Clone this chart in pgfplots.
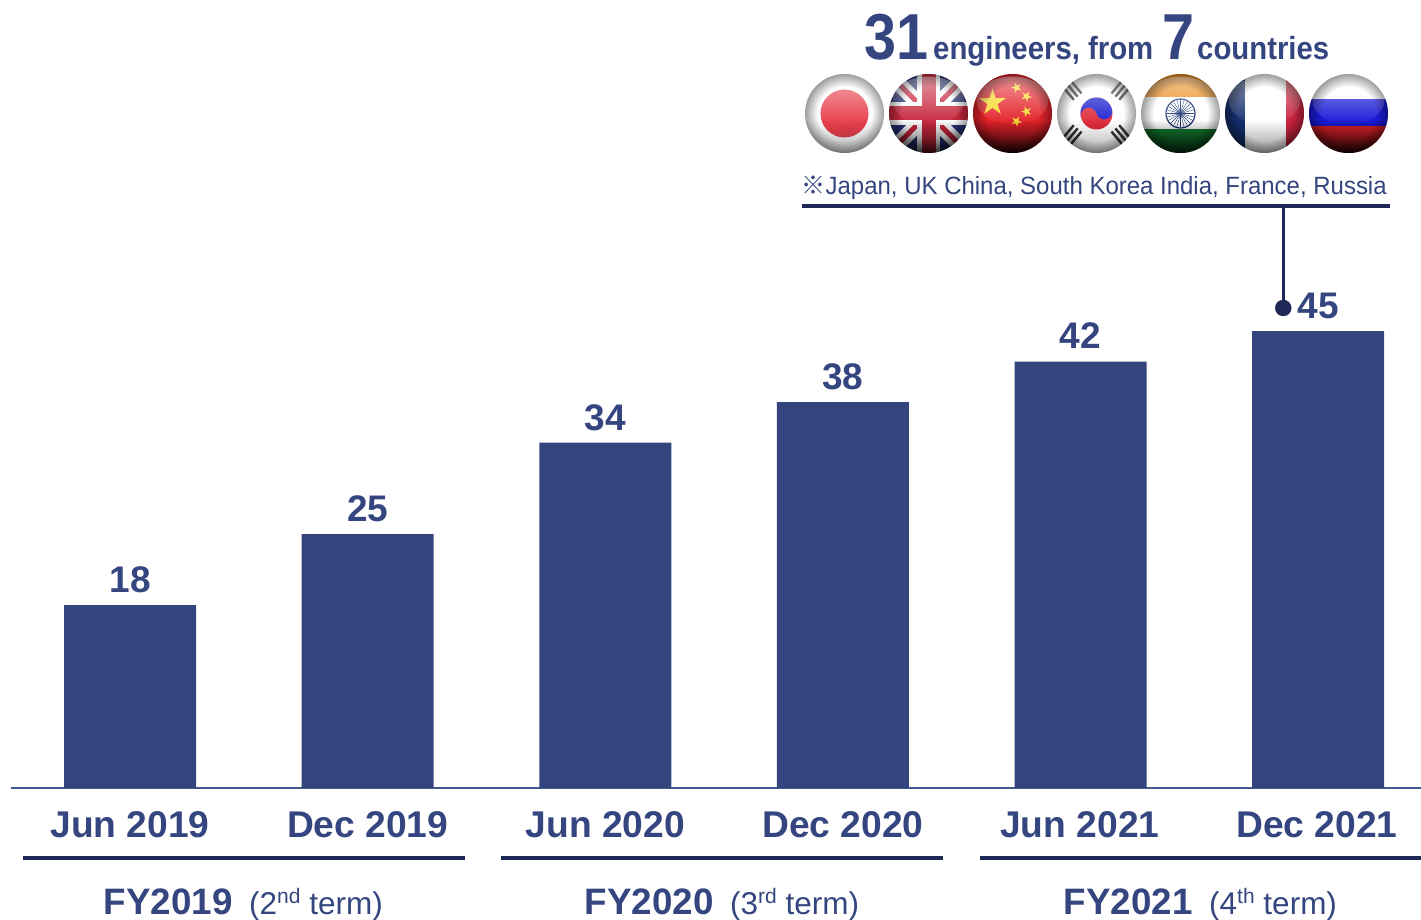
\documentclass[border=0pt]{standalone}
\usepackage{fontspec}
\setmainfont{Liberation Sans}
\newfontfamily\cjkfont{Noto Sans CJK JP}
\usepackage{pgfplots}
\pgfplotsset{compat=1.18}
\usetikzlibrary{fadings,shapes.geometric}

\definecolor{barblue}{HTML}{34457E}
\definecolor{inkblue}{HTML}{34457F}
\definecolor{ruleblue}{HTML}{1D2856}
\definecolor{baseblue}{HTML}{42598F}
\definecolor{jpred}{HTML}{E8404C}
\definecolor{flagred}{HTML}{E4222A}
\definecolor{ukblue}{HTML}{26357C}
\definecolor{ukred}{HTML}{C8283E}
\definecolor{starcol}{HTML}{F6DC2C}
\definecolor{inorange}{HTML}{EC8A16}
\definecolor{ingreen}{HTML}{137A2E}
\definecolor{frblue}{HTML}{15306F}
\definecolor{frred}{HTML}{CC2440}
\definecolor{rublue}{HTML}{1A1AD8}
\definecolor{krred}{HTML}{E02A3A}
\definecolor{krblue}{HTML}{1C22D0}

\newcommand{\fs}[1]{\fontsize{#1}{#1}\selectfont}
\newcommand{\ordsup}[1]{\raisebox{.34em}{\fontsize{21}{21}\selectfont #1}}

% fadings for the glass look of the round flags
\tikzfading[name=glossfade, top color=transparent!48, bottom color=transparent!100]
\tikzfading[name=darkfade, top color=transparent!100, bottom color=transparent!0]
\pgfdeclareradialshading{rimshade}{\pgfpointorigin}{%
  color(0bp)=(pgftransparent!100); color(17bp)=(pgftransparent!100);
  color(25bp)=(pgftransparent!62); color(50bp)=(pgftransparent!62)}
\pgfdeclarefading{rimfade}{\pgfuseshading{rimshade}}

% one round flag: #1 centre x, #2 strength of the lower shadow, #3 artwork
\newcommand{\globe}[3]{%
  \begin{scope}[shift={(#1,113.5)}]
    \begin{scope}
      \clip (0,0) circle (39.5);
      #3
      \fill[white, path fading=glossfade] (0,-13) ellipse[x radius=36, y radius=24];
      \fill[black, path fading=darkfade, fill opacity=#2] (-39.5,6) rectangle (39.5,39.5);
    \end{scope}
    \fill[black, path fading=rimfade] (0,0) circle (39.5);
  \end{scope}}

\begin{document}
\begin{tikzpicture}
\path[use as bounding box] (0,0) rectangle (1421pt,919pt);

\begin{axis}[
  at={(11.3pt,131pt)}, anchor=south west,
  scale only axis, width=1410pt, height=788pt,
  xmin=-0.5, xmax=5.434, ymin=0, ymax=77.6,
  axis x line=bottom, axis y line=none,
  axis line style={baseblue, line width=1.8pt, -},
  xtick={0,1,2,3,3.997,4.995},
  xticklabels={Jun 2019,Dec 2019,Jun 2020,Dec 2020,Jun 2021,Dec 2021},
  major tick length=0pt,
  x tick label style={font=\fs{37.2}\bfseries, text=inkblue, anchor=base,
    yshift=-49pt},
  ybar, bar width=132pt, clip=false,
  nodes near coords={\pgfmathprintnumber[assume math mode=true]{\pgfplotspointmeta}},
  every node near coord/.style={font=\fs{37}\bfseries, text=inkblue,
    anchor=south, text depth=0pt, inner ysep=12.5pt, inner xsep=0pt},
]
\addplot[fill=barblue, draw=none] coordinates
  {(0,18) (1,25) (2,34) (3,38) (4,42) (5,45)};
\end{axis}

% callout dot on the last bar
\begin{axis}[
  at={(11.3pt,131pt)}, anchor=south west,
  scale only axis, width=1410pt, height=788pt,
  xmin=-0.5, xmax=5.434, ymin=0, ymax=77.6,
  hide axis, clip=false,
]
\addplot[only marks, mark=*, mark size=8pt, ruleblue] coordinates {(4.853,47.27)};
\end{axis}

\begin{scope}[x=1pt, y=-1pt, shift={(0,919pt)}]
  % callout rules
  \draw[ruleblue, line width=3.8pt] (802,206) -- (1390,206);
  \draw[ruleblue, line width=3.8pt] (1283.5,206) -- (1283.5,308);
  % fiscal-year rules
  \draw[ruleblue, line width=4pt] (23,857.5) -- (465,857.5);
  \draw[ruleblue, line width=4pt] (501,857.5) -- (943,857.5);
  \draw[ruleblue, line width=4pt] (980,857.5) -- (1421,857.5);

  % fiscal-year captions
  \node[anchor=base west, inner sep=0, text=inkblue, font=\fs{36.8}\bfseries] at (103.5,914) {FY2019};
  \node[anchor=base west, inner sep=0, text=inkblue, font=\fs{31.5}] at (249,914) {(2\ordsup{nd} term)};
  \node[anchor=base west, inner sep=0, text=inkblue, font=\fs{36.8}\bfseries] at (584.5,914) {FY2020};
  \node[anchor=base west, inner sep=0, text=inkblue, font=\fs{31.5}] at (730,914) {(3\ordsup{rd} term)};
  \node[anchor=base west, inner sep=0, text=inkblue, font=\fs{36.8}\bfseries] at (1063.5,914) {FY2021};
  \node[anchor=base west, inner sep=0, text=inkblue, font=\fs{31.5}] at (1209,914) {(4\ordsup{th} term)};

  % headline
  \node[anchor=base west, inner sep=0, text=inkblue, font=\fs{65}\bfseries, xscale=.885] at (864,60) {31};
  \node[anchor=base west, inner sep=0, text=inkblue, font=\fs{32}\bfseries, xscale=.917] at (933,60) {engineers, from};
  \node[anchor=base west, inner sep=0, text=inkblue, font=\fs{65}\bfseries, xscale=.885] at (1162,60) {7};
  \node[anchor=base west, inner sep=0, text=inkblue, font=\fs{32}\bfseries, xscale=.917] at (1197,60) {countries};

  % note
  \node[anchor=base west, inner sep=0, text=inkblue, font=\fs{25}, xscale=.959] at (801.5,195)
    {{\cjkfont ※}Japan, UK China, South Korea India, France, Russia};

  % Japan
  \globe{844.5}{.3}{\fill[white] (-40,-40) rectangle (40,40);
    \fill[jpred] (0,0) circle (24);}
  % United Kingdom
  \globe{928.5}{.7}{\fill[ukblue] (-40,-40) rectangle (40,40);
    \draw[white, line width=15pt] (-40,-40) -- (40,40) (-40,40) -- (40,-40);
    \draw[ukred, line width=5pt] (-40,-40) -- (40,40) (-40,40) -- (40,-40);
    \draw[white, line width=23pt] (-40,0) -- (40,0) (0,-40) -- (0,40);
    \draw[ukred, line width=14pt] (-40,0) -- (40,0) (0,-40) -- (0,40);}
  % China
  \globe{1012.5}{.92}{\fill[flagred] (-40,-40) rectangle (40,40);
    \node[star, star points=5, star point ratio=2.618, fill=starcol, inner sep=0, minimum size=28pt] at (-20,-11) {};
    \node[star, star points=5, star point ratio=2.618, fill=starcol, inner sep=0, minimum size=11pt, rotate=20] at (4,-26) {};
    \node[star, star points=5, star point ratio=2.618, fill=starcol, inner sep=0, minimum size=11pt, rotate=45] at (14,-17) {};
    \node[star, star points=5, star point ratio=2.618, fill=starcol, inner sep=0, minimum size=11pt, rotate=20] at (14,-2) {};
    \node[star, star points=5, star point ratio=2.618, fill=starcol, inner sep=0, minimum size=11pt, rotate=45] at (4,8) {};}
  % South Korea
  \globe{1096.5}{.3}{\fill[white] (-40,-40) rectangle (40,40);
    \begin{scope}[rotate=15]
      \fill[krred] (0,0) circle (16);
      \fill[krblue] (-16,0) arc[start angle=180, end angle=360, radius=16]
        arc[start angle=0, end angle=180, radius=8]
        arc[start angle=0, end angle=-180, radius=8] -- cycle;
    \end{scope}
    \foreach \a/\x/\y in {-50/-24/-23, 50/24/-23, 50/-24/21, -50/24/21}{
      \begin{scope}[shift={(\x,\y)}, rotate=\a+90]
        \foreach \d in {-5,0,5}
          \draw[black!80, line width=2.4pt] (\d,-8) -- (\d,8);
      \end{scope}}}
  % India
  \globe{1180.5}{.75}{\fill[white] (-40,-40) rectangle (40,40);
    \fill[inorange] (-40,-40) rectangle (40,-16);
    \fill[ingreen] (-40,16) rectangle (40,40);
    \draw[frblue, line width=1.2pt] (0,0) circle (14.5);
    \foreach \a in {0,15,...,345}
      \draw[frblue, line width=.4pt] (0,0) -- (\a:14);}
  % France
  \globe{1264.5}{.4}{\fill[white] (-40,-40) rectangle (40,40);
    \fill[frblue] (-40,-40) rectangle (-20,40);
    \fill[frred] (21,-40) rectangle (40,40);}
  % Russia
  \globe{1348.5}{.92}{\fill[white] (-40,-40) rectangle (40,40);
    \fill[rublue] (-40,-14) rectangle (40,13);
    \fill[flagred] (-40,13) rectangle (40,40);}
\end{scope}
\end{tikzpicture}
\end{document}
